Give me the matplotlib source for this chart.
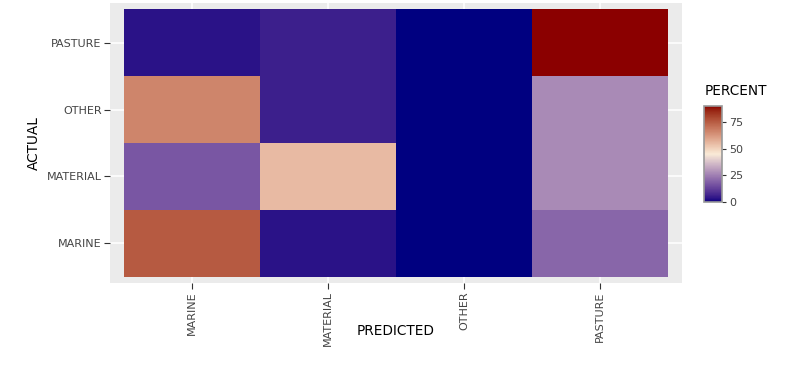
import numpy as np
import matplotlib
matplotlib.use("Agg")
import matplotlib.pyplot as plt
from matplotlib.colors import ListedColormap, Normalize

# ---- data ----
predicted = ["MARINE", "MATERIAL", "OTHER", "PASTURE"]
actual = ["MARINE", "MATERIAL", "OTHER", "PASTURE"]
# rows = actual, columns = predicted
row_marine = [76.0, 3.5, 0.0, 20.5]
row_material = [17.0, 55.5, 0.0, 27.5]
row_other = [66.5, 6.0, 0.0, 27.5]
row_pasture = [3.5, 6.0, 0.0, 90.5]
colorbar_ticks = [0, 25, 50, 75]

values = np.array([row_marine, row_material, row_other, row_pasture])

# ---- Lab-space diverging palette (navy -> antiquewhite -> darkred) ----
def hex2rgb(h):
    h = h.lstrip("#")
    return np.array([int(h[i:i + 2], 16) / 255 for i in (0, 2, 4)])

M = np.array([[0.4124, 0.3576, 0.1805],
              [0.2126, 0.7152, 0.0722],
              [0.0193, 0.1192, 0.9505]])
WHITE = np.array([0.95047, 1.0, 1.08883])

def to_lab(rgb):
    lin = np.where(rgb <= 0.04045, rgb / 12.92, ((rgb + 0.055) / 1.055) ** 2.4)
    xyz = M @ lin / WHITE
    f = np.where(xyz > 0.008856, np.cbrt(xyz), 7.787 * xyz + 16 / 116)
    return np.array([116 * f[1] - 16, 500 * (f[0] - f[1]), 200 * (f[1] - f[2])])

def from_lab(lab):
    L, a, b = lab
    fy = (L + 16) / 116
    fx = fy + a / 500
    fz = fy - b / 200
    f = np.array([fx, fy, fz])
    xyz = np.where(f ** 3 > 0.008856, f ** 3, (f - 16 / 116) / 7.787) * WHITE
    lin = np.linalg.inv(M) @ xyz
    lin = np.clip(lin, 0, 1)
    rgb = np.where(lin <= 0.0031308, 12.92 * lin, 1.055 * lin ** (1 / 2.4) - 0.055)
    return np.clip(rgb, 0, 1)

low, mid, high = to_lab(hex2rgb("#000080")), to_lab(hex2rgb("#FAEBD7")), to_lab(hex2rgb("#8B0000"))
cols = []
for t in np.linspace(0, 1, 256):
    if t <= 0.5:
        s = t / 0.5
        lab = low + (mid - low) * s
    else:
        s = (t - 0.5) / 0.5
        lab = mid + (high - mid) * s
    cols.append(from_lab(lab))
cmap = ListedColormap(cols)

# ---- figure ----
W, H = 810, 371
fig = plt.figure(figsize=(W / 100, H / 100), dpi=100)
fig.patch.set_facecolor("white")

def box(x0, y0, x1, y1):
    return [x0 / W, 1 - y1 / H, (x1 - x0) / W, (y1 - y0) / H]

ax = fig.add_axes(box(110, 3, 682, 283))
ax.set_facecolor("#EBEBEB")
norm = Normalize(vmin=values.min(), vmax=values.max())
xe = np.arange(len(predicted) + 1) - 0.5
ye = np.arange(len(actual) + 1) - 0.5
mesh = ax.pcolormesh(xe, ye, values, cmap=cmap, norm=norm,
                     edgecolors="none", linewidth=0, antialiased=False,
                     zorder=2)
ax.set_xlim(-0.6, 3.6)
ax.set_ylim(-0.59, 3.59)
ax.set_xticks(range(len(predicted)))
ax.set_xticklabels(predicted, rotation=90)
ax.set_yticks(range(len(actual)))
ax.set_yticklabels(actual)
ax.grid(True, color="white", linewidth=1.1, zorder=1)
ax.set_axisbelow(True)
for s in ax.spines.values():
    s.set_visible(False)
ax.tick_params(axis="both", length=4, width=0.8, color="#333333",
               labelsize=8, labelcolor="#444444", pad=2)
fig.text(396 / W, 1 - 331 / H, "PREDICTED", fontsize=9.8, color="black",
         ha="center", va="center")
fig.text(34 / W, 1 - 143 / H, "ACTUAL", fontsize=9.8, color="black",
         ha="center", va="center", rotation=90)

# ---- colorbar ----
cax = fig.add_axes(box(704, 106, 722, 202))
cb = fig.colorbar(mesh, cax=cax, ticks=colorbar_ticks)
cb.outline.set_edgecolor("#999999")
cb.outline.set_linewidth(1.2)
cax.tick_params(length=3, width=0.8, color="#333333", labelsize=8,
                labelcolor="#444444", pad=2)
fig.text(705 / W, 1 - 91 / H, "PERCENT", fontsize=9.8, color="black",
         ha="left", va="center")

fig.savefig("out.png", dpi=100)
